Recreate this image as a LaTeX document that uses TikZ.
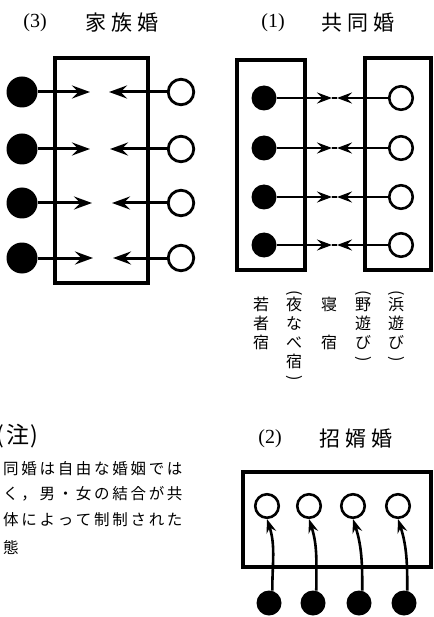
\documentclass[tikz,border=0pt]{standalone}
\usepackage{fontspec}
\usepackage{graphicx}
\setmainfont{Liberation Serif}
\newfontfamily\jp{Noto Sans CJK JP}
\usetikzlibrary{arrows.meta}
\def\spaced#1#2{\def\spgap{\hspace{#1}}\spacedfirst#2\relax}
\def\spacedfirst#1{#1\spacedi}
\def\spacedi#1{\ifx#1\relax\else\spgap#1\expandafter\spacedi\fi}
\newcommand{\vlp}{\rotatebox[origin=c]{-90}{(}}
\newcommand{\vrp}{\rotatebox[origin=c]{-90}{)}}
\tikzset{
  numf/.style={inner sep=0pt, font=\fontsize{20}{22}\selectfont},
  ttl/.style={inner sep=0pt, font=\jp\fontsize{21}{24}\selectfont},
  frameA/.style={draw, line width=3.4pt, inner sep=0pt},
  frameB/.style={draw, line width=3.2pt, inner sep=0pt},
  fdotA/.style={circle, fill=black, minimum size=31pt, inner sep=0pt},
  odotA/.style={circle, draw, line width=2.8pt, minimum size=25.5pt, inner sep=0pt},
  fdotB/.style={circle, fill=black, minimum size=25pt, inner sep=0pt},
  odotB/.style={circle, draw, line width=2.6pt, minimum size=23.5pt, inner sep=0pt},
  arrA/.style={line width=3pt, -{Stealth[length=18pt,width=13pt,inset=6.5pt]}},
  arrB/.style={line width=2.8pt, -{Stealth[length=15pt,width=11pt,inset=5.5pt]}},
  lineB/.style={line width=2.8pt},
  arrC/.style={line width=2.6pt, -{Stealth[length=14pt,width=10pt,inset=5pt]}},
  vcol/.style={inner sep=0pt, anchor=north, align=center, font=\jp\fontsize{16}{19}\selectfont},
  note/.style={inner sep=0pt, anchor=west, font=\jp\fontsize{15.5}{18}\selectfont},
}
\begin{document}
\begin{tikzpicture}[x=1pt,y=-1pt]
\useasboundingbox (0,0) rectangle (433,617);
% ---------- (3) family marriage
\node[numf] (t3n) at (35,23) {(3)};
\node[ttl] (t3) at (122,23) {\spaced{5pt}{家族婚}};
\node[frameA, minimum width=93pt, minimum height=225pt] (box3) at (101.5,170.5) {};
\foreach \i/\y/\r/\l in {1/92/90/109, 2/149/90/110, 3/203/92/112, 4/258/93/113}{
  \node[fdotA] (a\i) at (22,\y) {};
  \node[odotA] (b\i) at (181,\y) {};
  \coordinate (ra\i) at (\r,\y);
  \coordinate (la\i) at (\l,\y);
  \draw[arrA] (a\i) -- (ra\i);
  \draw[arrA] (b\i) -- (la\i);
}
% ---------- (1) communal marriage
\node[numf] (t1n) at (273,23) {(1)};
\node[ttl] (t1) at (358,23) {\spaced{5pt}{共同婚}};
\node[frameB, minimum width=68pt, minimum height=210pt] (box1l) at (271,165) {};
\node[frameB, minimum width=66pt, minimum height=212pt] (box1r) at (398,164) {};
\foreach \i/\y in {1/98, 2/148, 3/197, 4/245}{
  \node[fdotB] (c\i) at (264,\y) {};
  \node[odotB] (d\i) at (401,\y) {};
  \coordinate (rc\i) at (332,\y);
  \coordinate (lc\i) at (337,\y);
  \draw[lineB] (rc\i) -- (lc\i);
  \draw[arrB] (c\i) -- (rc\i);
  \draw[arrB] (d\i) -- (lc\i);
}
\node[vcol] (v1) at (261,297) {若\\者\\宿};
\node[vcol] (v2) at (294,290) {\vlp\\[-6pt]夜\\な\\べ\\宿\\[-4pt]\vrp};
\node[vcol] (v3) at (329,297) {寝\\　\\宿};
\node[vcol] (v4) at (363,290) {\vlp\\[-6pt]野\\遊\\び\\[-4pt]\vrp};
\node[vcol] (v5) at (396,290) {\vlp\\[-6pt]浜\\遊\\び\\[-4pt]\vrp};
% ---------- note
\node[note, font=\jp\fontsize{23}{25}\selectfont] (n0) at (-4,436) {(\hspace{2.5pt}注\hspace{1.5pt})};
\node[note] (n1) at (3,469) {\spaced{2.7pt}{同婚は自由な婚姻では}};
\node[note] (n2) at (3,494) {\spaced{2.7pt}{く，男・女の結合が共}};
\node[note] (n3) at (3,520) {\spaced{2.7pt}{体によって制制された}};
\node[note] (n4) at (3,547) {態};
% ---------- (2) matrilocal marriage
\node[numf] (t2n) at (270,439) {(2)};
\node[ttl] (t2) at (356,439) {\spaced{5pt}{招婿婚}};
\node[frameB, minimum width=188pt, minimum height=95pt] (box2) at (337,519.5) {};
\foreach \i/\xo/\xf in {1/267/269, 2/309/313, 3/353/359, 4/398/404}{
  \node[odotB] (e\i) at (\xo,506) {};
  \node[fdotB] (f\i) at (\xf,603) {};
  \draw[arrC] (f\i.75) to[out=90,in=-72] (e\i.south);
}
\end{tikzpicture}
\end{document}
